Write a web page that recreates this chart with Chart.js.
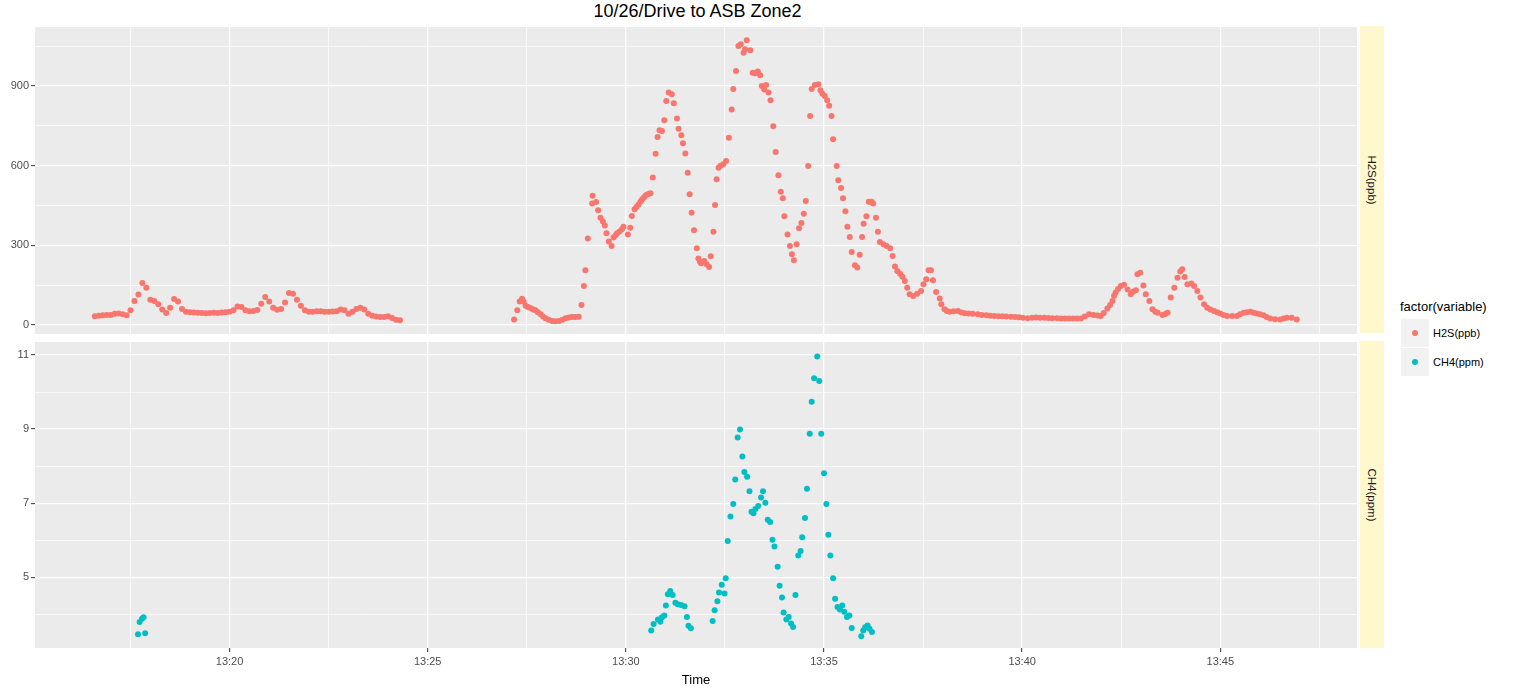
<!DOCTYPE html>
<html>
<head>
<meta charset="utf-8">
<script src="https://cdn.jsdelivr.net/npm/chart.js@4.4.1/dist/chart.umd.min.js"></script>
<style>
  html, body { margin:0; padding:0; background:#fff; }
  body { width:1516px; height:694px; position:relative; overflow:hidden; font-family:"Liberation Sans", Arial, sans-serif; }
  canvas { position:absolute; left:0; }
  .title { position:absolute; top:1px; left:0; width:1395px; text-align:center; font-size:18px; color:#000; }
  .strip { position:absolute; left:1360px; width:24px; background:#FFF8CD; }
  .striptxt { position:absolute; left:50%; top:50%; transform:translate(-50%,-50%) rotate(90deg); font-size:11.5px; color:#1A1A1A; white-space:nowrap; }
  .legtitle { position:absolute; left:1400px; top:299px; font-size:13px; color:#000; }
  .key { position:absolute; left:1401px; width:28px; height:28px; background:#F2F2F2; }
  .dot { position:absolute; left:11px; top:11px; width:6px; height:6px; border-radius:50%; }
  .leglab { position:absolute; left:1433px; font-size:11px; color:#000; }
</style>
</head>
<body>
<div class="title">10/26/Drive to ASB Zone2</div>
<canvas id="c1" width="1360" height="313" style="top:24px"></canvas>
<canvas id="c2" width="1360" height="355" style="top:339px"></canvas>
<div class="strip" style="top:26px;height:307px"><div class="striptxt">H2S(ppb)</div></div>
<div class="strip" style="top:341px;height:307px"><div class="striptxt">CH4(ppm)</div></div>
<div class="legtitle">factor(variable)</div>
<div class="key" style="top:319px"><div class="dot" style="background:#F8766D"></div></div>
<div class="key" style="top:348px"><div class="dot" style="background:#00BFC4"></div></div>
<div class="leglab" style="top:327px">H2S(ppb)</div>
<div class="leglab" style="top:356px">CH4(ppm)</div>
<script>
// ---- data (time = minutes after 13:00) ----
const seriesNames = ['H2S(ppb)', 'CH4(ppm)'];

const h2sTime = [
16.6,16.7,16.8,16.9,17.0,17.1,17.2,17.3,17.4,17.5,17.6,17.7,17.8,17.9,18.0,18.1,18.2,18.3,18.4,18.5,
18.6,18.7,18.8,18.9,19.0,19.1,19.2,19.3,19.4,19.5,19.6,19.7,19.8,19.9,20.0,20.1,20.2,20.3,20.4,20.5,
20.6,20.7,20.8,20.9,21.0,21.1,21.2,21.3,21.4,21.5,21.6,21.7,21.8,21.9,22.0,22.1,22.2,22.3,22.4,22.5,
22.6,22.7,22.8,22.9,23.0,23.1,23.2,23.3,23.4,23.5,23.6,23.7,23.8,23.9,24.0,24.1,24.2,24.3,
27.18,27.26,27.32,27.38,27.42,27.47,27.53,27.60,27.66,27.72,27.78,27.85,27.91,27.97,28.05,28.14,28.22,28.31,28.40,28.48,
28.56,28.64,28.72,28.81,28.88,28.94,28.98,29.04,29.15,29.16,29.25,29.30,29.36,29.42,29.47,29.51,29.57,29.64,29.69,29.74,
29.78,29.84,29.90,29.94,30.05,30.11,30.15,30.22,30.27,30.32,30.37,30.41,30.46,30.51,30.57,30.62,30.68,30.75,30.80,30.85,
30.91,30.97,31.02,31.08,31.16,31.21,31.29,31.33,31.40,31.44,31.50,31.56,31.61,31.66,31.72,31.79,31.83,31.87,31.90,31.94,
31.98,32.04,32.10,32.14,32.21,32.25,32.29,32.34,32.39,32.46,32.53,32.60,32.67,32.71,32.78,32.84,32.90,32.97,33.01,33.05,
33.14,33.20,33.26,33.33,33.39,33.43,33.49,33.54,33.60,33.65,33.72,33.78,33.85,33.91,33.96,34.00,34.08,34.14,34.19,34.24,
34.31,34.37,34.43,34.49,34.54,34.60,34.65,34.69,34.77,34.86,34.91,34.96,35.02,35.08,35.13,35.19,35.23,35.32,35.36,35.43,
35.48,35.54,35.59,35.65,35.70,35.78,35.84,35.90,35.96,36.00,36.07,36.13,36.20,36.24,36.31,36.36,36.41,36.50,36.58,36.67,
36.73,36.79,36.85,36.92,36.98,37.04,37.10,37.16,37.25,37.35,37.45,37.51,37.58,37.64,37.70,37.75,37.83,37.92,37.96,38.04,
38.10,38.17,38.27,38.38,38.47,38.55,38.65,38.75,38.88,38.98,39.10,39.20,39.30,39.40,39.50,39.60,39.72,39.82,39.92,40.02,
40.14,40.25,40.35,40.45,40.56,40.66,40.76,40.88,40.98,41.08,41.18,41.28,41.38,41.48,41.58,41.69,41.80,41.90,41.98,42.06,
42.15,42.22,42.28,42.32,42.36,42.42,42.49,42.57,42.66,42.74,42.80,42.87,42.91,42.98,43.06,43.12,43.21,43.29,43.36,43.42,
43.54,43.60,43.67,43.75,43.84,43.92,43.99,44.04,44.10,44.17,44.27,44.34,44.42,44.50,44.59,44.67,44.75,44.84,44.92,45.00,
45.08,45.17,45.30,45.42,45.50,45.59,45.67,45.76,45.84,45.92,46.00,46.09,46.17,46.26,46.38,46.51,46.60,46.68,46.80,46.93
];
const h2sValue = [
33,35,37,38,38,42,43,40,37,55,90,115,158,140,95,90,78,58,45,65,
98,88,60,50,48,47,46,45,44,45,46,45,47,48,50,55,70,68,55,52,
53,56,80,105,88,65,57,60,85,120,118,95,72,55,50,50,52,52,50,50,
51,52,58,55,42,50,60,65,58,42,35,32,30,30,33,26,20,18,
21,55,88,99,88,72,68,63,58,55,48,40,32,25,20,15,14,15,20,25,
28,30,30,31,75,147,206,326,457,487,463,432,404,390,375,345,314,297,329,338,
345,352,360,370,341,366,410,436,445,454,465,473,481,489,493,496,555,645,708,733,
730,771,843,875,869,835,777,739,714,684,646,573,492,423,357,289,250,238,232,236,
241,229,218,259,351,452,549,592,600,605,617,705,811,889,956,1050,1057,1025,1038,1072,
1034,950,948,954,940,900,887,904,875,846,748,651,564,502,477,409,341,297,266,244,
304,364,384,419,467,599,787,889,904,906,884,871,862,846,825,787,699,599,545,516,
477,428,370,331,275,225,216,264,331,381,409,464,464,457,404,351,312,304,297,289,
260,220,203,193,182,166,140,116,109,118,128,153,172,206,206,168,124,100,78,59,
53,50,52,53,47,44,43,42,40,38,37,35,34,33,33,32,31,30,29,27,
25,27,28,27,27,26,25,25,24,24,24,24,24,24,32,40,38,36,34,45,
62,75,90,110,122,135,147,151,134,116,125,131,191,197,149,116,90,59,50,46,
38,40,46,103,140,178,201,210,181,153,156,147,128,103,78,65,58,53,48,43,
38,34,34,34,40,46,48,50,46,43,40,37,30,24,22,21,24,27,27,21
];

const ch4Time = [
17.69,17.73,17.79,17.83,17.87,
30.64,30.70,30.81,30.87,30.91,30.97,31.01,31.06,31.12,31.18,31.25,31.31,31.39,31.48,31.54,31.58,31.64,
32.19,32.24,32.31,32.35,32.42,32.49,32.52,32.57,32.64,32.71,32.76,32.82,32.88,32.94,32.99,33.06,33.12,33.17,
33.22,33.27,33.34,33.41,33.46,33.52,33.58,33.64,33.70,33.75,33.83,33.88,33.94,33.98,34.05,34.11,34.17,34.22,
34.28,34.35,34.41,34.45,34.52,34.57,34.64,34.69,34.75,34.83,34.88,34.93,35.00,35.06,35.11,35.16,35.23,35.28,
35.34,35.40,35.46,35.51,35.58,35.64,35.70,35.94,35.99,36.04,36.10,36.15,36.21
];
const ch4Value = [
3.46,3.79,3.88,3.92,3.49,
3.56,3.74,3.86,3.80,3.92,3.97,4.24,4.54,4.63,4.52,4.31,4.27,4.25,4.22,3.93,3.69,3.62,
3.82,4.11,4.35,4.59,4.80,4.56,4.97,5.98,6.64,6.98,7.64,8.77,8.99,8.26,7.84,7.71,7.32,6.77,
6.73,6.84,6.92,7.15,7.32,7.01,6.55,6.49,6.01,5.83,5.28,4.77,4.45,4.05,3.86,3.93,3.75,3.66,
4.52,5.59,5.71,6.08,6.60,7.39,8.87,9.74,10.37,10.96,10.30,8.87,7.81,6.98,6.15,5.59,4.97,4.42,
4.20,4.13,4.24,4.07,3.93,3.97,3.63,3.41,3.56,3.65,3.70,3.61,3.52
];

// ---- axes ----
const xRange = [15.09, 48.45];
const xGridTicks = [17.5, 20, 22.5, 25, 27.5, 30, 32.5, 35, 37.5, 40, 42.5, 45, 47.5];
const xMajorTicks = [20, 25, 30, 35, 40, 45];
const xTickLabels = ['13:20', '13:25', '13:30', '13:35', '13:40', '13:45'];

const h2sRange = [-34, 1122];
const h2sGridTicks = [0, 150, 300, 450, 600, 750, 900, 1050];
const h2sMajorTicks = [0, 300, 600, 900];
const h2sTickLabels = ['0', '300', '600', '900'];

const ch4Range = [3.09, 11.35];
const ch4GridTicks = [4, 5, 6, 7, 8, 9, 10, 11];
const ch4MajorTicks = [5, 7, 9, 11];
const ch4TickLabels = ['5', '7', '9', '11'];

const colors = ['#F8766D', '#00BFC4'];

// ---- helpers ----
const isIn = (arr, v) => arr.some(a => Math.abs(a - v) < 1e-6);
const labelFor = (majors, labels, v) => { const i = majors.findIndex(a => Math.abs(a - v) < 1e-6); return i >= 0 ? labels[i] : ''; };

const panelBg = {
  id: 'panelBg',
  beforeDraw(chart) {
    const { ctx, chartArea: a } = chart;
    ctx.save();
    ctx.fillStyle = '#EBEBEB';
    ctx.fillRect(a.left, a.top, a.right - a.left, a.bottom - a.top);
    ctx.restore();
  }
};

function zeroPad(s) { s.paddingTop = 0; s.paddingBottom = 0; s.paddingLeft = 0; s.paddingRight = 0; }

function gridOpts(majors, showTickMarks) {
  return {
    color: '#FFFFFF',
    lineWidth: c => (c.tick && isIn(majors, c.tick.value)) ? 1.3 : 0.7,
    drawTicks: showTickMarks,
    tickLength: 4,
    tickWidth: 1,
    tickColor: c => (c.tick && isIn(majors, c.tick.value)) ? '#333333' : 'rgba(0,0,0,0)'
  };
}

function yScale(range, grid, majors, labels) {
  return {
    type: 'linear', min: range[0], max: range[1],
    border: { display: false },
    grid: gridOpts(majors, true),
    afterBuildTicks: s => { s.ticks = grid.map(v => ({ value: v })); },
    afterFit: s => { s.width = 35; zeroPad(s); },
    ticks: {
      color: '#4D4D4D', padding: 2,
      font: { family: '"Liberation Sans", Arial, sans-serif', size: 11 },
      callback: v => labelFor(majors, labels, v)
    }
  };
}

function xScale(showLabels, height) {
  const sc = {
    type: 'linear', min: xRange[0], max: xRange[1],
    border: { display: false },
    grid: gridOpts(xMajorTicks, showLabels),
    afterBuildTicks: s => { s.ticks = xGridTicks.map(v => ({ value: v })); },
    afterFit: s => { s.height = height; zeroPad(s); },
    ticks: {
      display: showLabels, autoSkip: false, maxRotation: 0, color: '#4D4D4D', padding: 3,
      font: { family: '"Liberation Sans", Arial, sans-serif', size: 11 },
      callback: v => labelFor(xMajorTicks, xTickLabels, v)
    }
  };
  if (showLabels) {
    sc.title = { display: true, text: 'Time', color: '#000000', padding: { top: 2, bottom: 6 },
      font: { family: '"Liberation Sans", Arial, sans-serif', size: 13 } };
  }
  return sc;
}

function makeChart(id, times, values, color, name, yRange, yGrid, yMajors, yLabels, showX, xHeight) {
  const pts = times.map((t, i) => ({ x: t, y: values[i] }));
  return new Chart(document.getElementById(id), {
    type: 'scatter',
    data: { datasets: [{ label: name, data: pts, backgroundColor: color, borderWidth: 0,
      pointRadius: 3, pointHoverRadius: 3 }] },
    options: {
      responsive: false, animation: false, devicePixelRatio: 1,
      layout: { padding: 0 },
      plugins: { legend: { display: false }, tooltip: { enabled: false } },
      scales: { x: xScale(showX, xHeight), y: yScale(yRange, yGrid, yMajors, yLabels) }
    },
    plugins: [panelBg]
  });
}

makeChart('c1', h2sTime, h2sValue, colors[0], seriesNames[0], h2sRange, h2sGridTicks, h2sMajorTicks, h2sTickLabels, false, 0);
makeChart('c2', ch4Time, ch4Value, colors[1], seriesNames[1], ch4Range, ch4GridTicks, ch4MajorTicks, ch4TickLabels, true, 46);
</script>
</body>
</html>
